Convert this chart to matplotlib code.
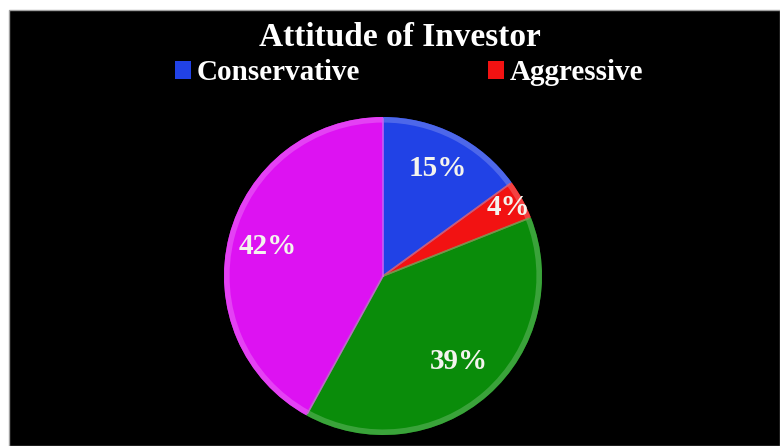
import matplotlib
matplotlib.use('Agg')
import matplotlib.pyplot as plt
import matplotlib.patches as mpatches
import matplotlib.colors as mcolors
import numpy as np

FIG_W = 780
FIG_H = 446
DPI = 100

TITLE = 'Attitude of Investor'
LEGEND_LABELS = ['Conservative', 'Aggressive']
SHARES = [15, 4, 39, 42]
COLOURS = ['#2142e6', '#f21212', '#0a8c0a', '#dd12f2']
LABEL_DIST = [0.76, 0.90, 0.72, 0.75]  # radius of each % label, as fraction of pie radius

SERIF = ['Liberation Serif', 'DejaVu Serif']


def px(x, y):
    # pixel coords (from top-left) -> figure fraction
    return x / FIG_W, 1 - y / FIG_H


def lighter(colour, amount):
    r, g, b = mcolors.to_rgb(colour)
    return (r + (1 - r) * amount, g + (1 - g) * amount, b + (1 - b) * amount)


fig = plt.figure(figsize=(FIG_W / DPI, FIG_H / DPI), dpi=DPI, facecolor='white')

# black chart area with a thin grey rim, white strip on the top and left
x0, y0 = px(9, FIG_H)
bg = mpatches.Rectangle((x0, y0), 1 - x0, 1 - 10 / FIG_H, transform=fig.transFigure,
                        facecolor='black', edgecolor='#a0a0a0', linewidth=1, zorder=-5)
fig.patches.append(bg)

# pie centred at (383, 276) px, radius 159 px
cx, cy, r = 383, 276, 159
left, bottom = px(cx - r, cy + r)
ax = fig.add_axes([left, bottom, 2 * r / FIG_W, 2 * r / FIG_H])
ax.set_facecolor('none')
ax.set_zorder(2)

wedges, _ = ax.pie(SHARES, colors=COLOURS, startangle=90, counterclock=False,
                   wedgeprops=dict(linewidth=0))

# soft bevel: a lighter rim drawn inside each slice
for w, c in zip(wedges, COLOURS):
    rim = mpatches.Wedge((0, 0), 1.0, w.theta1, w.theta2, width=0.035,
                         facecolor=lighter(c, 0.25), edgecolor='none', alpha=0.8)
    ax.add_patch(rim)
    for th in (w.theta1, w.theta2):
        t = np.deg2rad(th)
        ax.plot([0, 0.985 * np.cos(t)], [0, 0.985 * np.sin(t)],
                color=lighter(c, 0.3), linewidth=1.2, alpha=0.7)

for w, share, d in zip(wedges, SHARES, LABEL_DIST):
    mid = np.deg2rad((w.theta1 + w.theta2) / 2)
    ax.text(d * np.cos(mid), d * np.sin(mid), '{}%'.format(share),
            ha='center', va='center', color='#f4f4ee', fontsize=21,
            fontweight='bold', family=SERIF)

ax.set_xlim(-1, 1)
ax.set_ylim(-1, 1)
ax.set_aspect('equal')
ax.axis('off')

tx, ty = px(400, 46)
fig.text(tx, ty, TITLE, ha='center', va='baseline', color='white',
         fontsize=24, fontweight='bold', family=SERIF)

handles = [mpatches.Patch(facecolor=COLOURS[i]) for i in range(len(LEGEND_LABELS))]
lx, ly = px(409, 73)
leg = fig.legend(handles, LEGEND_LABELS, loc='center', bbox_to_anchor=(lx, ly),
                 ncol=2, frameon=False, handlelength=0.55, handleheight=0.55,
                 handletextpad=0.2, columnspacing=4.4, borderaxespad=0,
                 prop=dict(family=SERIF, weight='bold', size=21))
for t in leg.get_texts():
    t.set_color('white')

fig.savefig('out.png', dpi=DPI, facecolor='white')
